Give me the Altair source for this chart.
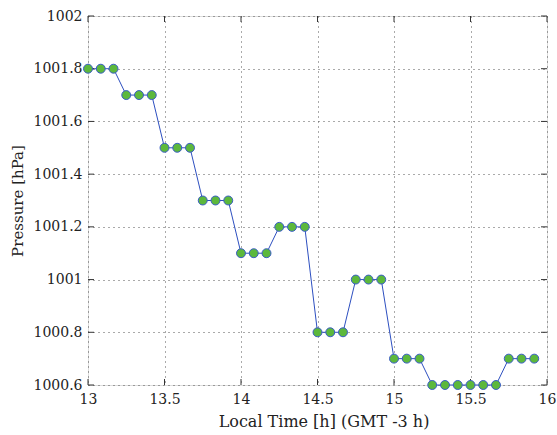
import altair as alt
import pandas as pd

times = [13 + i / 12 for i in range(36)]
pressure = [1001.8, 1001.8, 1001.8, 1001.7, 1001.7, 1001.7,
            1001.5, 1001.5, 1001.5, 1001.3, 1001.3, 1001.3,
            1001.1, 1001.1, 1001.1, 1001.2, 1001.2, 1001.2,
            1000.8, 1000.8, 1000.8, 1001.0, 1001.0, 1001.0,
            1000.7, 1000.7, 1000.7, 1000.6, 1000.6, 1000.6,
            1000.6, 1000.6, 1000.6, 1000.7, 1000.7, 1000.7]
x_ticks = [13, 13.5, 14, 14.5, 15, 15.5, 16]
y_ticks = [1000.6, 1000.8, 1001, 1001.2, 1001.4, 1001.6, 1001.8, 1002]

df = pd.DataFrame({"t": times, "p": pressure})
W, H = 459, 369
FONT = "DejaVu Serif"

xs = alt.Scale(domain=[13, 16], nice=False)
ys = alt.Scale(domain=[1000.6, 1002], nice=False, zero=False)

xaxis = alt.Axis(values=x_ticks, format=".1~f", grid=True, gridDash=[1, 4], gridColor="#555",
                 ticks=False, domain=False, labelPadding=7, titlePadding=7,
                 labelFont=FONT, titleFont=FONT, labelFontSize=14, titleFontSize=16,
                 titleFontWeight="normal", labelColor="#222", titleColor="#222", labelFlush=False,
                 titleX=W / 2 + 6)
yaxis = alt.Axis(values=y_ticks, format=".1~f", grid=True, gridDash=[1, 4], gridColor="#555",
                 ticks=False, domain=False, labelPadding=6, titlePadding=8,
                 labelFont=FONT, titleFont=FONT, labelFontSize=14, titleFontSize=15,
                 titleFontWeight="normal", labelColor="#222", titleColor="#222", labelFlush=False)

line = alt.Chart(df).mark_line(color="#2d4fc0", strokeWidth=1).encode(
    x=alt.X("t:Q", scale=xs, axis=xaxis, title="Local Time [h] (GMT -3 h)"),
    y=alt.Y("p:Q", scale=ys, axis=yaxis, title="Pressure [hPa]"),
)
pts = alt.Chart(df).mark_point(filled=True, fill="#5cb83c", stroke="#3a5cc8", strokeWidth=1,
                               size=80, opacity=1, shape="circle").encode(
    x=alt.X("t:Q", scale=xs), y=alt.Y("p:Q", scale=ys))

xt = pd.DataFrame({"v": x_ticks})
yt = pd.DataFrame({"v": y_ticks})
tk = "#333"
xb = alt.Chart(xt).mark_rule(color=tk).encode(x=alt.X("v:Q", scale=xs), y=alt.value(H), y2=alt.value(H - 6))
xtop = alt.Chart(xt).mark_rule(color=tk).encode(x=alt.X("v:Q", scale=xs), y=alt.value(0), y2=alt.value(6))
yl = alt.Chart(yt).mark_rule(color=tk).encode(y=alt.Y("v:Q", scale=ys), x=alt.value(0), x2=alt.value(6))
yr = alt.Chart(yt).mark_rule(color=tk).encode(y=alt.Y("v:Q", scale=ys), x=alt.value(W), x2=alt.value(W - 6))

chart = alt.layer(line, xb, xtop, yl, yr, pts).properties(
    width=W, height=H,
    padding={"left": 88, "top": 16, "right": 10, "bottom": 50},
    autosize="none",
).configure_view(stroke="#333", strokeWidth=1).configure(background="white")

chart.save("out.html", embed_options={"renderer": "svg", "actions": False})
